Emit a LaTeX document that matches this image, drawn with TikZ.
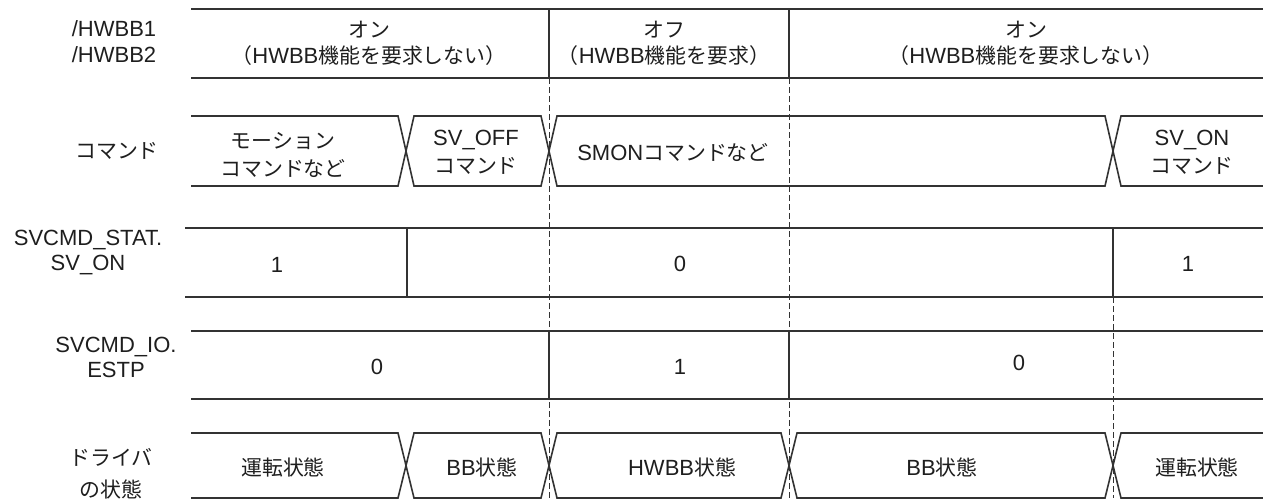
\documentclass[tikz,border=0pt]{standalone}
\usepackage{fontspec}
\setmainfont{Liberation Sans}
\newfontfamily\jp{Noto Sans CJK JP}[Scale=0.95]
\definecolor{ink}{HTML}{1E1E1E}
\definecolor{linegray}{HTML}{333333}

\begin{document}
\begin{tikzpicture}[x=0.5pt, y=-0.5pt,
  wire/.style={draw=linegray, line width=0.8pt, line join=miter},
  guide/.style={draw=linegray, line width=0.5pt, dash pattern=on 3pt off 1.5pt},
  txt/.style={text=ink, align=center, inner sep=0pt, font=\fontsize{11}{13}\selectfont},
  jtxt/.style={txt, font=\fontsize{11}{14}\selectfont\jp}
]
  \useasboundingbox (0,0) rectangle (1263,500);

  % /HWBB row
  \draw[wire] (191,9) -- (1263,9);
  \draw[wire] (191,78) -- (1263,78);
  \draw[wire] (549,9) -- (549,78);
  \draw[wire] (789,9) -- (789,78);

  % guides
  \draw[guide] (549,78) -- (549,498);
  \draw[guide] (789,78) -- (789,498);
  \draw[guide] (1113,297) -- (1113,498);

  % command bus
  \draw[wire] (191,116) -- (398,116) -- (406,151) -- (398,186) -- (191,186);
  \foreach \a/\b in {406/549, 549/1113}
    \draw[wire] (\a+8,116) -- (\b-8,116) -- (\b,151) -- (\b-8,186) -- (\a+8,186) -- (\a,151) -- cycle;
  \draw[wire] (1263,116) -- (1121,116) -- (1113,151) -- (1121,186) -- (1263,186);

  % SV_ON
  \draw[wire] (185,228) -- (1263,228);
  \draw[wire] (185,297) -- (1263,297);
  \draw[wire] (407,228) -- (407,297);
  \draw[wire] (1113,228) -- (1113,297);

  % ESTP
  \draw[wire] (191,331) -- (1263,331);
  \draw[wire] (191,399) -- (1263,399);
  \draw[wire] (549,331) -- (549,399);
  \draw[wire] (789,331) -- (789,399);

  % driver state bus
  \draw[wire] (191,433) -- (398,433) -- (406,465.5) -- (398,498) -- (191,498);
  \foreach \a/\b in {406/549, 549/789, 789/1113}
    \draw[wire] (\a+8,433) -- (\b-8,433) -- (\b,465.5) -- (\b-8,498) -- (\a+8,498) -- (\a,465.5) -- cycle;
  \draw[wire] (1263,433) -- (1121,433) -- (1113,465.5) -- (1121,498) -- (1263,498);

  \node[txt, align=left] (hwbbLbl) at (114,42) {/HWBB1\\/HWBB2};
  \node[txt] (hwbbA) at (369,43) {{\jp オン}\\{\jp （}HWBB{\jp 機能を要求しない）}};
  \node[txt] (hwbbB) at (664,43) {{\jp オフ}\\{\jp （}HWBB{\jp 機能を要求）}};
  \node[txt] (hwbbC) at (1026,43) {{\jp オン}\\{\jp （}HWBB{\jp 機能を要求しない）}};

  \node[jtxt] (cmdLbl) at (117,151) {コマンド};
  \node[jtxt] (cmdA) at (283,155) {モーション\\コマンドなど};
  \node[txt, font=\fontsize{11}{14}\selectfont] (cmdB) at (476,152) {SV\_OFF\\{\jp コマンド}};
  \node[txt] (cmdC) at (673,153) {SMON{\jp コマンドなど}};
  \node[txt, font=\fontsize{11}{14}\selectfont] (cmdD) at (1192,152) {SV\_ON\\{\jp コマンド}};

  \node[txt, font=\fontsize{11}{12.5}\selectfont] (svonLbl) at (88,252) {SVCMD\_STAT.\\SV\_ON};
  \node[txt] (svonA) at (277,265) {1};
  \node[txt] (svonB) at (680,264) {0};
  \node[txt] (svonC) at (1188,264) {1};

  \node[txt, font=\fontsize{11}{12.5}\selectfont] (estpLbl) at (116,357) {SVCMD\_IO.\\ESTP};
  \node[txt] (estpA) at (377,367) {0};
  \node[txt] (estpB) at (680,367) {1};
  \node[txt] (estpC) at (1019,363) {0};

  \node[jtxt, font=\fontsize{11}{16}\selectfont\jp] (drvLbl) at (111,474) {ドライバ\\の状態};
  \node[jtxt] (drvA) at (283,467) {運転状態};
  \node[txt] (drvB) at (482,467) {BB{\jp 状態}};
  \node[txt] (drvC) at (682,467) {HWBB{\jp 状態}};
  \node[txt] (drvD) at (942,467) {BB{\jp 状態}};
  \node[jtxt] (drvE) at (1197,467) {運転状態};
\end{tikzpicture}
\end{document}
